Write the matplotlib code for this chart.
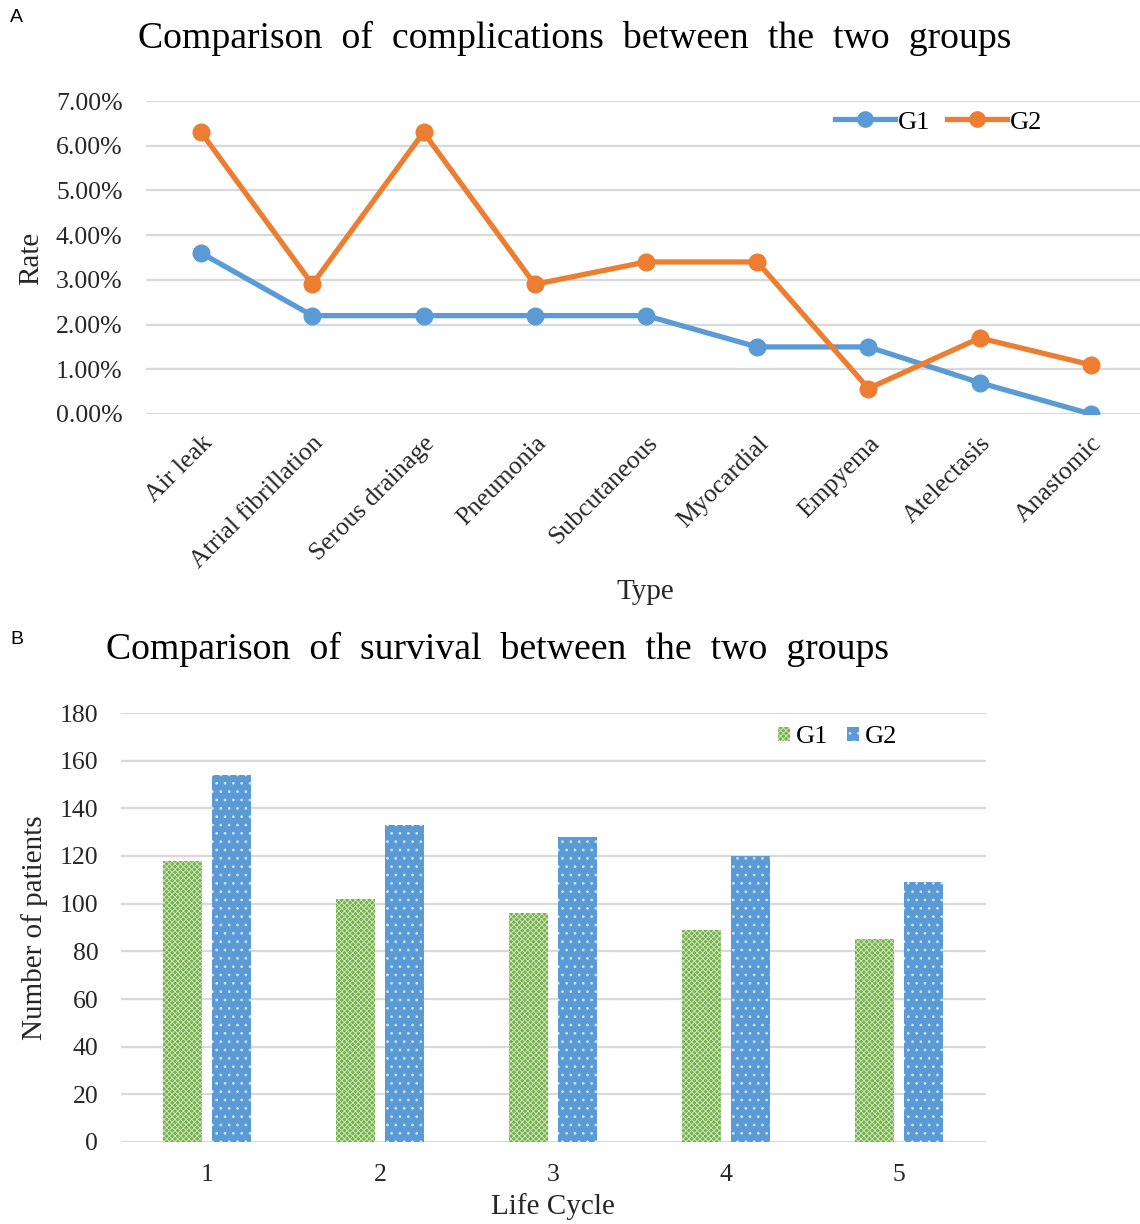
import matplotlib
matplotlib.use("Agg")
import matplotlib.pyplot as plt
import numpy as np
from matplotlib.lines import Line2D
from matplotlib.patches import Patch
from matplotlib.ticker import FuncFormatter, MultipleLocator

# ---- data ----
complication_types = ["Air leak", "Atrial fibrillation", "Serous drainage", "Pneumonia",
                      "Subcutaneous", "Myocardial", "Empyema", "Atelectasis", "Anastomic"]
g1_rate = [3.6, 2.2, 2.2, 2.2, 2.2, 1.5, 1.5, 0.7, 0.0]   # percent
g2_rate = [6.3, 2.9, 6.3, 2.9, 3.4, 3.4, 0.57, 1.7, 1.1]  # percent

life_cycle = ["1", "2", "3", "4", "5"]
g1_patients = [118, 102, 96, 89, 85]
g2_patients = [154, 133, 128, 120, 109]

# ---- style ----
W, H = 1140, 1224
DPI = 100
SERIF = ["Liberation Serif", "DejaVu Serif"]
SANS = ["Liberation Sans", "DejaVu Sans"]
BLUE = "#5B9BD5"
ORANGE = "#ED7D31"
GREEN = "#74B14B"
GREEN_HATCH = "#CBE5B8"
BLUE_HATCH = "#D6E6F5"
GRID = "#D9D9D9"
TXT = "#262626"
TICK_FS = 18.5
LABEL_FS = 21
TITLE_FS = 27.2
LEG_FS = 19

plt.rcParams["font.family"] = SERIF
plt.rcParams["hatch.linewidth"] = 0.7

fig = plt.figure(figsize=(W / DPI, H / DPI), dpi=DPI)


def px_axes(left, right, top, bottom):
    return fig.add_axes([left / W, 1 - bottom / H, (right - left) / W, (bottom - top) / H])


def clean(ax):
    for s in ax.spines.values():
        s.set_visible(False)
    ax.tick_params(axis="both", length=0, colors=TXT, labelsize=TICK_FS)
    ax.yaxis.grid(True, color=GRID, linewidth=1.6)
    ax.set_axisbelow(True)


# ---- panel A: complication rates ----
axA = px_axes(145.5, 1146.5, 101, 414)
clean(axA)
x = np.arange(len(complication_types))
axA.plot(x, g1_rate, color=BLUE, lw=3.8, marker="o", ms=12, label="G1")
axA.plot(x, g2_rate, color=ORANGE, lw=3.8, marker="o", ms=12, label="G2")
axA.set_xlim(-0.5, len(complication_types) - 0.5)
axA.set_ylim(0, 7)
axA.yaxis.set_major_locator(MultipleLocator(1))
axA.yaxis.set_major_formatter(FuncFormatter(lambda v, p: f"{v:.2f}%"))
axA.tick_params(axis="y", pad=16.5)
axA.set_xticks(x)
axA.set_xticklabels(complication_types, rotation=45, ha="right", va="top",
                    rotation_mode="anchor", fontsize=TICK_FS)
axA.tick_params(axis="x", pad=13)
axA.legend(handles=[Line2D([], [], color=BLUE, lw=3.8, marker="o", ms=11),
                    Line2D([], [], color=ORANGE, lw=3.8, marker="o", ms=11)],
           labels=["G1", "G2"], loc="center left", bbox_to_anchor=(835 / W, 1 - 122 / H),
           bbox_transform=fig.transFigure, ncol=2, frameon=False, fontsize=LEG_FS,
           handlelength=2.27, handletextpad=0.1, columnspacing=0.65, borderpad=0,
           borderaxespad=0)

fig.text(138 / W, 1 - 38 / H, "Comparison  of  complications  between  the  two  groups",
         fontsize=TITLE_FS, ha="left", va="center", color="black")
fig.text(645 / W, 1 - 592 / H, "Type", fontsize=LABEL_FS, ha="center", va="center", color=TXT)
fig.text(31 / W, 1 - 258 / H, "Rate", fontsize=LABEL_FS, ha="center", va="center",
         rotation=90, color=TXT)
fig.text(10 / W, 1 - 18 / H, "A", fontsize=14, ha="left", va="center", family=SANS)

# ---- panel B: survival counts ----
axB = px_axes(120.5, 985.5, 713, 1142)
clean(axB)
xb = np.arange(len(life_cycle))
bw = 0.225
off = 0.1416
axB.bar(xb - off, g1_patients, width=bw, color=GREEN, edgecolor=GREEN_HATCH,
        hatch="xxxxxx", linewidth=0, label="G1")
axB.bar(xb + off, g2_patients, width=bw, color=BLUE, edgecolor=BLUE_HATCH,
        hatch="..", linewidth=0, label="G2")
axB.set_xlim(-0.5, len(life_cycle) - 0.5)
axB.set_ylim(0, 180)
axB.yaxis.set_major_locator(MultipleLocator(20))
axB.tick_params(axis="y", pad=16)
axB.set_xticks(xb)
axB.set_xticklabels(life_cycle, fontsize=TICK_FS)
axB.tick_params(axis="x", pad=16)
axB.legend(handles=[Patch(facecolor=GREEN, edgecolor=GREEN_HATCH, hatch="xxxxxx", linewidth=0),
                    Patch(facecolor=BLUE, edgecolor=BLUE_HATCH, hatch="..", linewidth=0)],
           labels=["G1", "G2"], loc="center left", bbox_to_anchor=(778 / W, 1 - 737 / H),
           bbox_transform=fig.transFigure, ncol=2, frameon=False, fontsize=LEG_FS,
           handlelength=0.45, handleheight=0.45, handletextpad=0.23, columnspacing=0.72,
           borderpad=0, borderaxespad=0)

fig.text(106 / W, 1 - 649 / H, "Comparison  of  survival  between  the  two  groups",
         fontsize=TITLE_FS, ha="left", va="center", color="black")
fig.text(553 / W, 1 - 1207 / H, "Life Cycle", fontsize=LABEL_FS, ha="center", va="center",
         color=TXT)
fig.text(35 / W, 1 - 928 / H, "Number of patients", fontsize=LABEL_FS, ha="center",
         va="center", rotation=90, color=TXT)
fig.text(10 / W, 1 - 640 / H, "B", fontsize=14, ha="left", va="center", family=SANS)

fig.savefig("out.png", dpi=DPI, facecolor="white")
